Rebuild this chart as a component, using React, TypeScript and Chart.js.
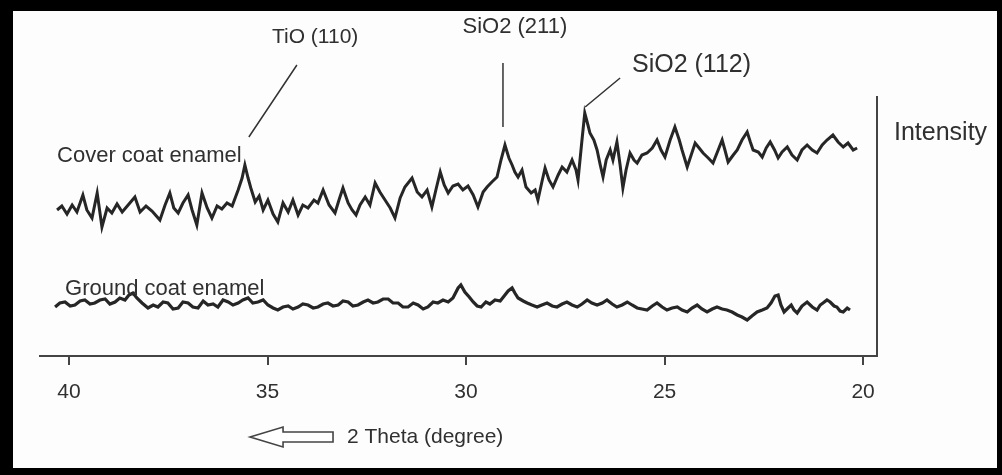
import React, { useEffect, useRef } from "react";
import { Chart, registerables } from "chart.js";

Chart.register(...registerables);

// 2 Theta (degree) positions and intensity (arbitrary units)
const coverTheta = [
  40.30, 40.18, 40.05, 39.92, 39.80, 39.65, 39.55, 39.42, 39.29, 39.17,
  39.04, 38.92, 38.79, 38.66, 38.51, 38.34, 38.21, 38.06, 37.91, 37.71,
  37.58, 37.46, 37.36, 37.25, 37.13, 37.00, 36.90, 36.78, 36.65, 36.52,
  36.40, 36.27, 36.15, 36.02, 35.89, 35.74, 35.64, 35.57, 35.49, 35.42,
  35.31, 35.21, 35.11, 34.99, 34.86, 34.74, 34.61, 34.48, 34.36, 34.23,
  34.11, 33.98, 33.83, 33.73, 33.60, 33.45, 33.30, 33.20, 33.10, 32.97,
  32.87, 32.77, 32.67, 32.54, 32.42, 32.29, 32.17, 32.04, 31.91, 31.79,
  31.66, 31.54, 31.36, 31.23, 31.11, 30.98, 30.86, 30.76, 30.65, 30.55,
  30.45, 30.33, 30.20, 30.08, 29.95, 29.82, 29.70, 29.57, 29.47, 29.35,
  29.22, 29.12, 29.02, 28.92, 28.84, 28.77, 28.69, 28.59, 28.49, 28.36,
  28.26, 28.19, 28.09, 28.01, 27.91, 27.81, 27.68, 27.58, 27.46, 27.33,
  27.23, 27.18, 27.08, 27.01, 26.93, 26.88, 26.78, 26.70, 26.62, 26.55,
  26.47, 26.37, 26.30, 26.20, 26.12, 26.05, 25.97, 25.87, 25.77, 25.69,
  25.57, 25.44, 25.31, 25.19, 25.09, 24.99, 24.86, 24.74, 24.63, 24.56,
  24.43, 24.33, 24.23, 24.13, 24.03, 23.90, 23.78, 23.65, 23.55, 23.48,
  23.40, 23.27, 23.17, 23.05, 22.92, 22.84, 22.77, 22.64, 22.54, 22.44,
  22.34, 22.23, 22.14, 22.04, 21.91, 21.79, 21.66, 21.54, 21.41, 21.28,
  21.16, 21.03, 20.91, 20.76, 20.63, 20.50, 20.38, 20.25, 20.15,
];
const coverIntensity = [
  146, 150, 142, 151, 144, 161, 146, 138, 163, 129,
  148, 143, 152, 144, 151, 159, 144, 150, 145, 136,
  151, 163, 148, 143, 153, 161, 146, 131, 163, 148,
  138, 150, 147, 153, 150, 166, 178, 191, 178, 168,
  154, 160, 146, 156, 142, 134, 153, 144, 156, 141,
  151, 148, 156, 153, 166, 151, 143, 156, 168, 153,
  146, 141, 151, 159, 151, 173, 164, 156, 148, 138,
  158, 169, 178, 164, 159, 166, 149, 166, 184, 171,
  163, 170, 172, 166, 170, 161, 149, 164, 169, 174,
  179, 196, 211, 198, 191, 184, 179, 186, 169, 163,
  166, 156, 174, 188, 176, 169, 181, 189, 184, 196,
  186, 176, 216, 243, 231, 223, 216, 206, 191, 179,
  196, 206, 196, 214, 191, 168, 186, 203, 196, 193,
  201, 203, 208, 216, 206, 199, 216, 229, 216, 206,
  189, 201, 213, 208, 203, 198, 193, 206, 216, 206,
  194, 201, 206, 216, 224, 214, 206, 204, 199, 208,
  214, 206, 198, 204, 209, 201, 196, 206, 211, 206,
  203, 211, 216, 221, 214, 209, 213, 206, 208,
];

const groundTheta = [
  40.35, 40.23, 40.10, 39.97, 39.85, 39.72, 39.60, 39.47, 39.35, 39.22,
  39.09, 38.97, 38.84, 38.72, 38.59, 38.49, 38.39, 38.29, 38.16, 38.01,
  37.88, 37.76, 37.63, 37.51, 37.38, 37.25, 37.13, 37.00, 36.88, 36.75,
  36.62, 36.50, 36.37, 36.25, 36.12, 35.99, 35.87, 35.74, 35.62, 35.49,
  35.37, 35.24, 35.11, 34.99, 34.86, 34.74, 34.61, 34.48, 34.36, 34.23,
  34.11, 33.98, 33.85, 33.73, 33.60, 33.48, 33.35, 33.22, 33.10, 32.97,
  32.85, 32.72, 32.59, 32.47, 32.34, 32.22, 32.09, 31.96, 31.84, 31.71,
  31.59, 31.46, 31.33, 31.21, 31.08, 30.96, 30.83, 30.71, 30.58, 30.45,
  30.33, 30.20, 30.13, 30.03, 29.92, 29.82, 29.72, 29.62, 29.50, 29.40,
  29.27, 29.14, 29.04, 28.94, 28.84, 28.77, 28.69, 28.56, 28.46, 28.34,
  28.21, 28.09, 27.96, 27.83, 27.71, 27.58, 27.46, 27.33, 27.20, 27.08,
  26.95, 26.83, 26.70, 26.57, 26.45, 26.32, 26.20, 26.07, 25.94, 25.82,
  25.69, 25.57, 25.44, 25.31, 25.19, 25.06, 24.94, 24.81, 24.68, 24.56,
  24.43, 24.31, 24.18, 24.06, 23.93, 23.80, 23.68, 23.55, 23.43, 23.30,
  23.17, 23.05, 22.92, 22.80, 22.67, 22.54, 22.42, 22.32, 22.22, 22.14,
  22.07, 21.99, 21.89, 21.81, 21.74, 21.66, 21.54, 21.41, 21.28, 21.16,
  21.08, 21.01, 20.91, 20.83, 20.73, 20.66, 20.58, 20.50, 20.40, 20.33,
];
const groundIntensity = [
  49, 53, 54, 50, 51, 55, 56, 52, 53, 56,
  57, 52, 54, 58, 56, 61, 63, 58, 53, 48,
  51, 49, 54, 53, 47, 48, 54, 53, 49, 48,
  55, 51, 52, 49, 56, 54, 51, 53, 56, 58,
  53, 54, 56, 51, 48, 46, 49, 50, 47, 49,
  52, 51, 48, 49, 52, 53, 50, 51, 55, 54,
  50, 51, 54, 56, 53, 54, 57, 57, 53, 53,
  49, 49, 53, 51, 47, 49, 54, 53, 56, 54,
  58, 68, 71, 64, 59, 54, 50, 49, 54, 52,
  56, 55, 60, 65, 68, 63, 58, 55, 53, 51,
  49, 51, 53, 50, 49, 52, 54, 51, 49, 52,
  56, 53, 51, 53, 56, 52, 49, 51, 54, 51,
  48, 47, 46, 50, 53, 49, 46, 48, 49, 46,
  44, 48, 51, 47, 44, 47, 49, 47, 46, 44,
  41, 39, 36, 40, 44, 46, 48, 53, 60, 61,
  51, 44, 48, 51, 46, 43, 50, 54, 49, 46,
  51, 53, 56, 54, 50, 49, 45, 44, 48, 46,
];

const xTickValues = [40, 35, 30, 25, 20];
const seriesNames = ["Cover coat enamel", "Ground coat enamel"];
const peakNames = ["TiO (110)", "SiO2 (211)", "SiO2 (112)"];
const xAxisTitle = "2 Theta (degree)";
const yAxisTitle = "Intensity";

const FONT = "'Liberation Sans', Arial, sans-serif";
const INK = "#262626";
const TEXT = "#303030";

const decorPlugin = {
  id: "decor",
  beforeDraw(chart: any) {
    const { ctx, width, height } = chart;
    ctx.save();
    ctx.fillStyle = "#fdfdfd";
    ctx.fillRect(0, 0, width, height);
    ctx.restore();
  },
  afterDraw(chart: any) {
    const { ctx, width, height, chartArea } = chart;
    const xs = chart.scales.x;
    const ys = chart.scales.y;
    const px = (v: number) => xs.getPixelForValue(v);
    const py = (v: number) => ys.getPixelForValue(v);
    ctx.save();
    ctx.fillStyle = TEXT;
    ctx.textBaseline = "alphabetic";

    // series labels
    ctx.font = `22px ${FONT}`;
    ctx.textAlign = "left";
    ctx.fillText(seriesNames[0], px(40.3), py(194));
    ctx.fillText(seriesNames[1], px(40.1), py(61));

    // peak annotations
    ctx.strokeStyle = "#333";
    ctx.lineWidth = 1.5;
    ctx.beginPath();
    ctx.moveTo(px(35.47), py(219));
    ctx.lineTo(px(34.26), py(291));
    ctx.moveTo(px(29.07), py(229));
    ctx.lineTo(px(29.07), py(293));
    ctx.moveTo(px(27.0), py(249));
    ctx.lineTo(px(26.12), py(278));
    ctx.stroke();

    ctx.textAlign = "center";
    ctx.font = `21px ${FONT}`;
    ctx.fillText(peakNames[0], px(33.8), py(313));
    ctx.font = `22px ${FONT}`;
    ctx.fillText(peakNames[1], px(28.77), py(323));
    ctx.textAlign = "left";
    ctx.font = `25px ${FONT}`;
    ctx.fillText(peakNames[2], px(25.82), py(284));

    // y axis title (right side)
    ctx.font = `25px ${FONT}`;
    ctx.fillText(yAxisTitle, chartArea.right + 17, py(216));

    // x axis title with hollow arrow pointing to higher 2θ
    const ay = chartArea.bottom + 81;
    const tipX = px(35.44);
    const headX = tipX + 33;
    const endX = px(33.35);
    ctx.beginPath();
    ctx.moveTo(tipX, ay);
    ctx.lineTo(headX, ay - 10);
    ctx.lineTo(headX, ay - 5);
    ctx.lineTo(endX, ay - 5);
    ctx.lineTo(endX, ay + 5);
    ctx.lineTo(headX, ay + 5);
    ctx.lineTo(headX, ay + 10);
    ctx.closePath();
    ctx.fillStyle = "#ffffff";
    ctx.fill();
    ctx.strokeStyle = "#444";
    ctx.lineWidth = 1.6;
    ctx.stroke();
    ctx.fillStyle = TEXT;
    ctx.font = `21px ${FONT}`;
    ctx.fillText(xAxisTitle, px(33.0), chartArea.bottom + 87);

    // black frame of the figure
    ctx.fillStyle = "#000";
    ctx.fillRect(0, 0, width, 11);
    ctx.fillRect(0, 0, 13, height);
    ctx.fillRect(0, height - 7, width, 7);
    ctx.fillRect(width - 5, 0, 5, height);
    ctx.restore();
  },
};

export default function App() {
  const ref = useRef<HTMLCanvasElement | null>(null);

  useEffect(() => {
    if (!ref.current) return;
    const cover = coverTheta.map((t, i) => ({ x: t, y: coverIntensity[i] }));
    const ground = groundTheta.map((t, i) => ({ x: t, y: groundIntensity[i] }));
    const chart = new Chart(ref.current, {
      type: "line",
      data: {
        datasets: [
          {
            label: seriesNames[0],
            data: cover,
            borderColor: INK,
            borderWidth: 3,
            pointRadius: 0,
            tension: 0,
            fill: false,
          },
          {
            label: seriesNames[1],
            data: ground,
            borderColor: INK,
            borderWidth: 3.2,
            pointRadius: 0,
            tension: 0,
            fill: false,
          },
        ],
      },
      options: {
        responsive: false,
        animation: false,
        layout: { padding: { left: 40, top: 97, right: 0, bottom: 0 } },
        plugins: {
          legend: { display: false },
          tooltip: { enabled: false },
          title: { display: false },
        },
        scales: {
          x: {
            type: "linear",
            reverse: true,
            min: 19.65,
            max: 40.73,
            afterBuildTicks: (s: any) => {
              s.ticks = xTickValues.map((v) => ({ value: v }));
            },
            afterFit: (s: any) => {
              s.height = 119;
            },
            ticks: {
              autoSkip: false,
              maxRotation: 0,
              color: TEXT,
              padding: 15,
              font: { size: 21, family: FONT },
              callback: (v: any) => String(v),
            },
            grid: {
              drawOnChartArea: false,
              drawTicks: true,
              tickLength: 9,
              color: "#444",
              lineWidth: 2,
            },
            border: { display: true, color: "#444", width: 2 },
          },
          y: {
            type: "linear",
            position: "right",
            min: 0,
            max: 259,
            afterFit: (s: any) => {
              s.width = 125;
            },
            ticks: { display: false },
            grid: { drawOnChartArea: false, drawTicks: false },
            border: { display: true, color: "#444", width: 2 },
          },
        },
      },
      plugins: [decorPlugin],
    });
    return () => chart.destroy();
  }, []);

  return (
    <div style={{ position: "absolute", left: 0, top: 0, width: 1002, height: 475 }}>
      <canvas ref={ref} width={1002} height={475} style={{ display: "block" }} />
    </div>
  );
}
